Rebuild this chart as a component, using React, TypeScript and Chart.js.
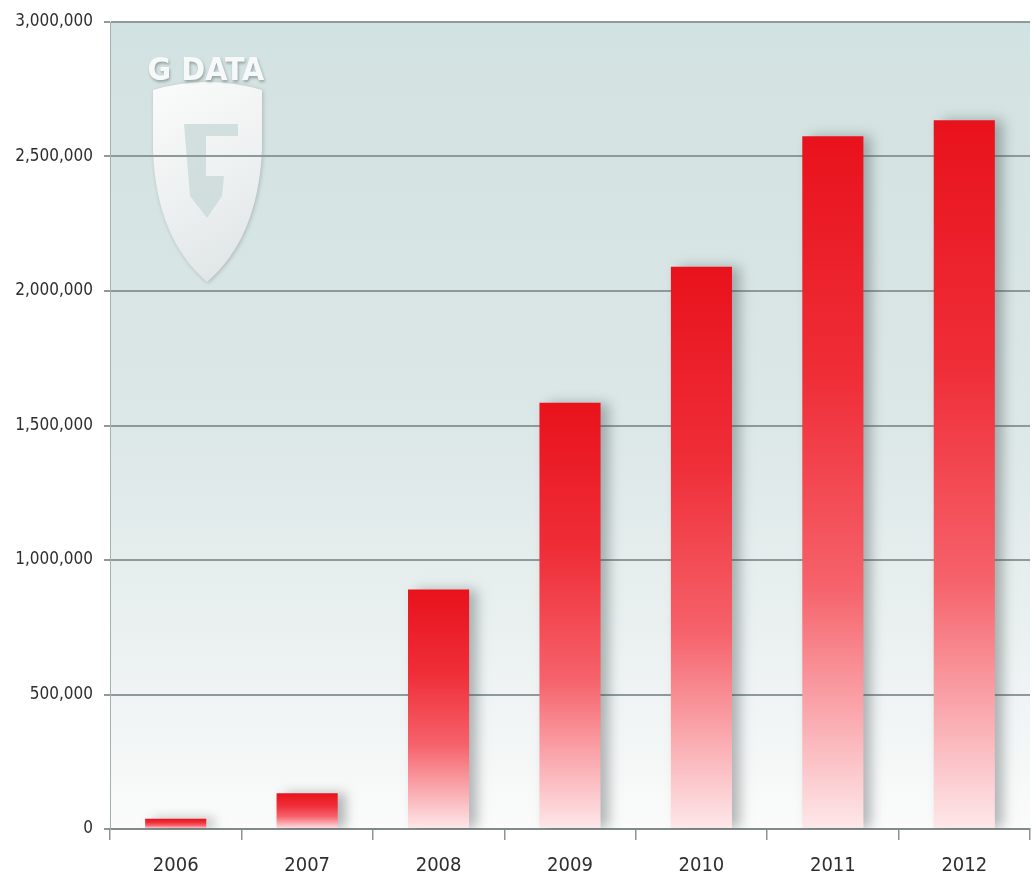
import React, { useEffect, useRef } from "react";
import { Chart, registerables } from "chart.js";

Chart.register(...registerables);

const categories = ["2006", "2007", "2008", "2009", "2010", "2011", "2012"];
const malwareCounts = [38000, 133000, 890000, 1585000, 2090000, 2575000, 2635000];
const yTickValues = [0, 500000, 1000000, 1500000, 2000000, 2500000, 3000000];

const FONT = "'DejaVu Sans Condensed', 'Liberation Sans Narrow', sans-serif";

const backgroundPlugin = {
  id: "plotBackground",
  beforeDraw(chart: any) {
    const { ctx, chartArea } = chart;
    if (!chartArea) return;
    const { left, top, right, bottom } = chartArea;
    ctx.save();
    const g = ctx.createLinearGradient(0, top, 0, bottom);
    g.addColorStop(0, "#d2e1e1");
    g.addColorStop(0.5, "#dce7e7");
    g.addColorStop(0.8, "#edf2f2");
    g.addColorStop(1, "#fbfbfb");
    ctx.fillStyle = g;
    ctx.fillRect(left, top, right - left, bottom - top);

    // watermark logo
    ctx.save();
    ctx.shadowColor = "rgba(120,130,130,0.45)";
    ctx.shadowBlur = 4;
    ctx.shadowOffsetX = 1;
    ctx.shadowOffsetY = 1;
    const sg = ctx.createLinearGradient(153, 80, 262, 280);
    sg.addColorStop(0, "#fbfbfb");
    sg.addColorStop(0.5, "#eef1f1");
    sg.addColorStop(1, "#dde3e3");
    ctx.fillStyle = sg;
    ctx.beginPath();
    ctx.moveTo(153, 90);
    ctx.quadraticCurveTo(207, 74, 262, 90);
    ctx.lineTo(262, 150);
    ctx.quadraticCurveTo(258, 238, 207, 282);
    ctx.quadraticCurveTo(156, 238, 153, 150);
    ctx.closePath();
    ctx.fill();
    ctx.restore();

    ctx.save();
    ctx.fillStyle = "rgba(205,218,218,0.85)";
    ctx.beginPath();
    ctx.moveTo(184, 124);
    ctx.lineTo(238, 124);
    ctx.lineTo(238, 136);
    ctx.lineTo(206, 136);
    ctx.lineTo(206, 176);
    ctx.lineTo(224, 176);
    ctx.lineTo(222, 196);
    ctx.lineTo(207, 218);
    ctx.lineTo(190, 196);
    ctx.closePath();
    ctx.fill();
    ctx.restore();

    ctx.save();
    ctx.font = "bold 32px 'DejaVu Sans Condensed', sans-serif";
    ctx.textAlign = "center";
    ctx.textBaseline = "alphabetic";
    ctx.shadowColor = "rgba(110,120,120,0.6)";
    ctx.shadowBlur = 3;
    ctx.shadowOffsetX = 1;
    ctx.shadowOffsetY = 2;
    ctx.fillStyle = "#f7f8f8";
    ctx.fillText("G DATA", 206, 80);
    ctx.restore();
    ctx.restore();
  },
  beforeDatasetsDraw(chart: any) {
    const ctx = chart.ctx;
    ctx.save();
    ctx.shadowColor = "rgba(60,70,70,0.38)";
    ctx.shadowBlur = 12;
    ctx.shadowOffsetX = 8;
    ctx.shadowOffsetY = 0;
  },
  afterDatasetsDraw(chart: any) {
    chart.ctx.restore();
  },
};

export default function App() {
  const canvasRef = useRef<HTMLCanvasElement | null>(null);

  useEffect(() => {
    const canvas = canvasRef.current;
    if (!canvas) return;
    const chart = new Chart(canvas, {
      type: "bar",
      data: {
        labels: categories,
        datasets: [
          {
            data: malwareCounts,
            backgroundColor: (c: any) => {
              const ch = c.chart;
              if (!ch.chartArea || c.raw == null) return "#e8141e";
              const ys = ch.scales.y;
              const top = ys.getPixelForValue(c.raw);
              const bottom = ys.getPixelForValue(0);
              const g = ch.ctx.createLinearGradient(0, top, 0, bottom);
              g.addColorStop(0, "#e8121c");
              g.addColorStop(0.35, "#ef2e38");
              g.addColorStop(0.65, "#f6626b");
              g.addColorStop(1, "#fde8ea");
              return g;
            },
            borderWidth: 0,
            barPercentage: 0.465,
            categoryPercentage: 1,
          },
        ],
      },
      options: {
        responsive: false,
        animation: false,
        layout: { padding: { top: 22, right: 5, left: 0, bottom: 0 } },
        plugins: {
          legend: { display: false },
          tooltip: { enabled: false },
        },
        scales: {
          x: {
            grid: {
              display: true,
              drawOnChartArea: false,
              drawTicks: true,
              tickLength: 11,
              color: "#8a9494",
              lineWidth: 1.5,
              offset: true,
            },
            border: { display: true, color: "#7f8a8a", width: 2 },
            ticks: {
              color: "#2e2e2e",
              font: { family: FONT, size: 20 },
              padding: 14,
            },
            afterFit: (s: any) => {
              s.height = 53;
            },
          },
          y: {
            min: 0,
            max: 3000000,
            afterBuildTicks: (s: any) => {
              s.ticks = yTickValues.map((v) => ({ value: v }));
            },
            grid: {
              color: "#8e9a9a",
              lineWidth: 2,
              tickLength: 6,
            },
            border: { display: true, color: "#a6b0b0", width: 1 },
            ticks: {
              color: "#2e2e2e",
              font: { family: FONT, size: 17 },
              padding: 11,
              callback: (v: any) => Number(v).toLocaleString("en-US"),
            },
            afterFit: (s: any) => {
              s.width = 110;
            },
          },
        },
      },
      plugins: [backgroundPlugin],
    });
    return () => chart.destroy();
  }, []);

  return (
    <div style={{ position: "absolute", left: 0, top: 0, width: 1035, height: 882, background: "#ffffff" }}>
      <canvas ref={canvasRef} width={1035} height={882} style={{ display: "block" }} />
    </div>
  );
}
